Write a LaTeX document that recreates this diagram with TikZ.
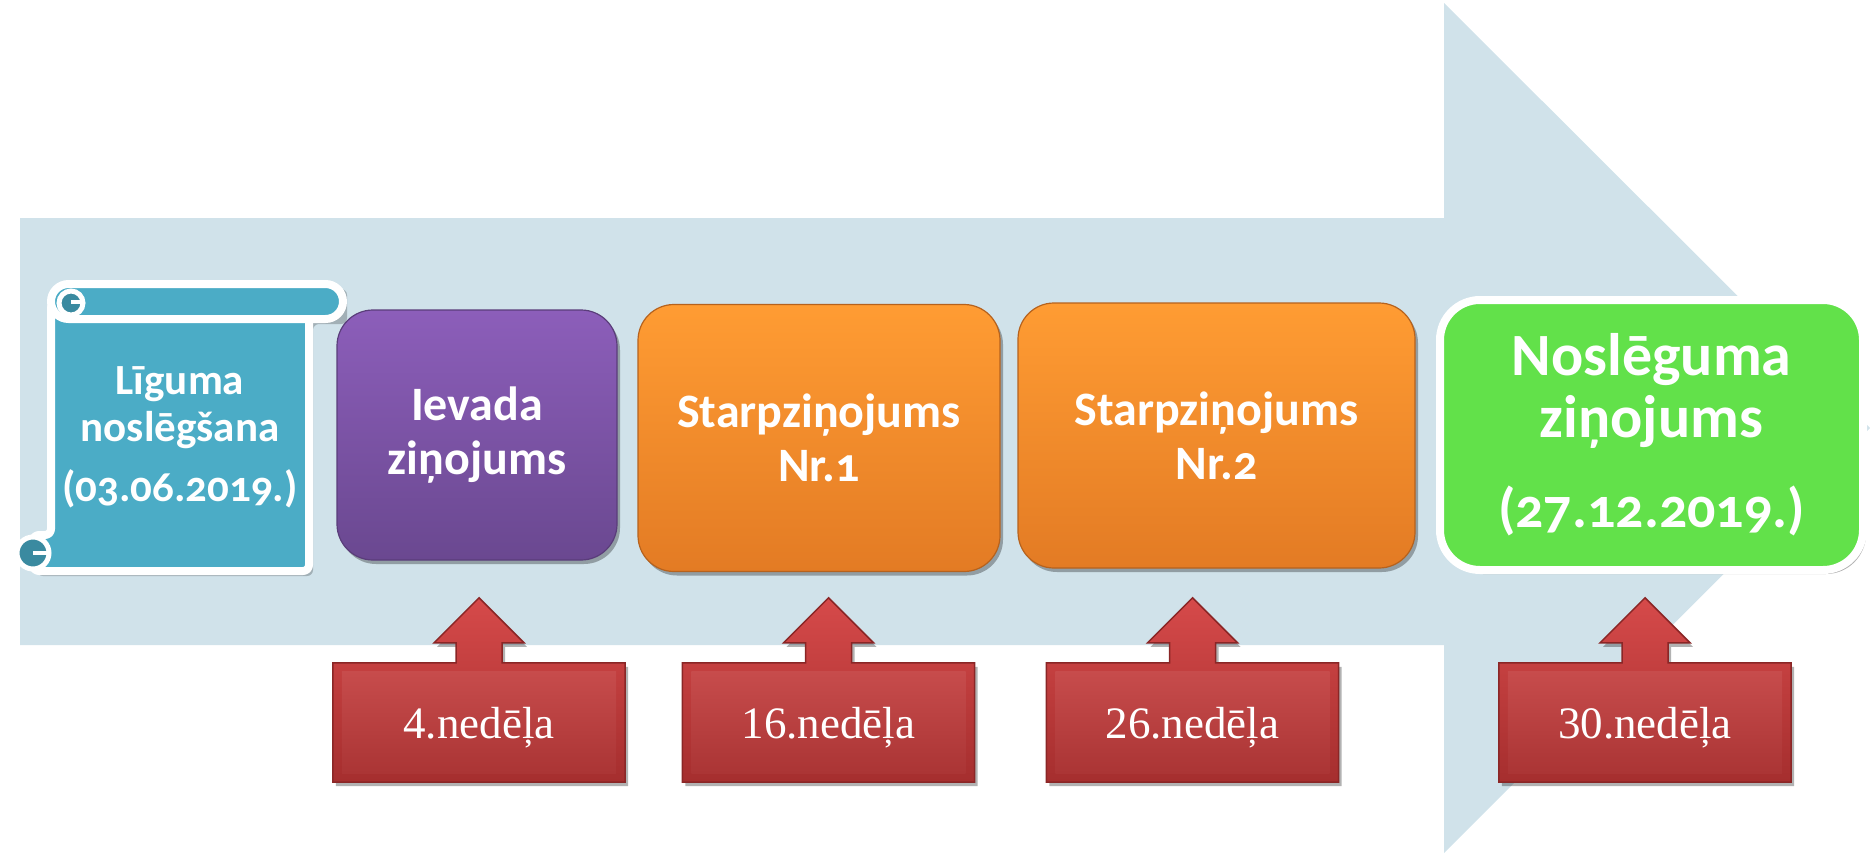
\documentclass[tikz,border=0pt]{standalone}
\usepackage{fontspec}
\setmainfont{Liberation Serif}
\setsansfont{Carlito}[Numbers=OldStyle]
\usetikzlibrary{calc,shadows}
\pgfdeclarelayer{back}
\pgfdeclarelayer{mid}
\pgfsetlayers{back,mid,main}
\definecolor{arrowbg}{HTML}{D0E2EA}
\definecolor{scrollteal}{HTML}{4BACC6}
\definecolor{scrolldark}{HTML}{3A8AA0}
\definecolor{purpletop}{HTML}{8C5EBA}
\definecolor{purplebot}{HTML}{6A4890}
\definecolor{orangetop}{HTML}{FF9C33}
\definecolor{orangebot}{HTML}{E37B24}
\definecolor{greenfill}{HTML}{62E14A}
\definecolor{redtop}{HTML}{D64A4A}
\definecolor{redbot}{HTML}{A52E2E}
\definecolor{redline}{HTML}{8A2626}
\definecolor{redface}{HTML}{C23C3C}
\tikzset{
  boxtext/.style={text=white, align=center, inner sep=0pt},
  softshadow/.style={drop shadow={shadow xshift=3pt, shadow yshift=-4pt, opacity=0.3, fill=black}},
  stagebox/.style={boxtext, rounded corners=36pt, line width=1.2pt, softshadow,
    font=\sffamily\bfseries\fontsize{48}{54}\selectfont},
  purplebox/.style={stagebox, top color=purpletop, bottom color=purplebot, draw=purplebot!85!black},
  orangebox/.style={stagebox, top color=orangetop, bottom color=orangebot, draw=orangebot!80!black},
  finalbox/.style={boxtext, rounded corners=40pt, fill=greenfill, draw=white, line width=8pt, softshadow,
    font=\sffamily\bfseries\fontsize{60}{62}\selectfont},
  scrolltext/.style={boxtext, font=\sffamily\bfseries\fontsize{43}{47}\selectfont},
  weekbox/.style={text=white, font=\fontsize{45}{50}\selectfont, minimum width=292pt,
    minimum height=119pt, inner sep=0pt, text depth=0pt},
  weekshape/.style={top color=redtop, bottom color=redbot, draw=redline, line width=1.5pt,
    line join=miter, softshadow},
  weekface/.style={top color=redface!92!white, bottom color=redface!88!black},
  scrollpart/.style={fill=scrollteal, draw=white, line width=8pt, line join=round},
  scrollcurl/.style={fill=scrolldark, draw=white, line width=5pt}
}
\newcommand\weekarrow[1]{%
  \draw[weekshape] (#1.south west) -- (#1.north west) -- ($(#1.north)+(-23,0)$) -- ++(0,-20)
    -- ++(-22,0) -- ++(45,-45) -- ++(45,45) -- ++(-22,0) -- ++(0,20)
    -- (#1.north east) -- (#1.south east) -- cycle;
  \fill[weekface] ($(#1.south west)+(9,-9)$) rectangle ($(#1.north east)+(-9,9)$);
}
\begin{document}
\begin{tikzpicture}[x=1pt, y=-1pt]
\useasboundingbox (0,0) rectangle (1870,854);

% big background arrow
\begin{pgfonlayer}{back}
  \fill[arrowbg] (20,218) -- (1444,218) -- (1444,3) -- (1870,428) -- (1444,853)
    -- (1444,645) -- (20,645) -- cycle;
\end{pgfonlayer}

% scroll (contract signing)
\node[scrolltext] (liguma) at (180,437) {Līguma\\noslēgšana\\[13pt](03.06.2019.)};
\begin{pgfonlayer}{mid}
  \begin{scope}[shift={(4,5)}]
    \fill[black, opacity=0.22, rounded corners=6pt] (51,284) -- (343,284) -- (343,319)
      -- (309,319) -- (309,571) -- (33,571) -- (33,535) -- (51,535) -- cycle;
  \end{scope}
  \filldraw[scrollpart, rounded corners=6pt] (51,302) -- (309,302) -- (309,571) -- (33,571)
    -- (33,535) -- (51,535) -- cycle;
  \filldraw[scrollcurl] (33,553) circle[radius=16pt];
  \draw[white, line width=4pt] (33,553) -- (48,553);
  \filldraw[scrollpart, rounded corners=17.5pt] (51,284) rectangle (343,319);
  \filldraw[scrollcurl] (71,303) circle[radius=12pt];
  \draw[white, line width=4pt] (71,302) -- (83,302);
\end{pgfonlayer}

% stage boxes
\node[purplebox, minimum width=280pt, minimum height=250pt] (ievada) at (477,435)
  {Ievada\\ziņojums};
\node[orangebox, minimum width=362pt, minimum height=267pt] (starp1) at (819,438)
  {Starpziņojums\\Nr.1};
\node[orangebox, minimum width=397pt, minimum height=265pt] (starp2) at (1216.5,435.5)
  {Starpziņojums\\Nr.2};
\node[finalbox, minimum width=423pt, minimum height=270pt] (nosl) at (1651.5,435)
  {Noslēguma\\ziņojums\\[28pt]{\fontsize{56}{62}\selectfont(27.12.2019.)}};

% week callouts
\node[weekbox] (w1) at (479,722.5) {4.nedēļa};
\node[weekbox] (w2) at (828.5,722.5) {16.nedēļa};
\node[weekbox] (w3) at (1192.5,722.5) {26.nedēļa};
\node[weekbox] (w4) at (1645,722.5) {30.nedēļa};
\begin{pgfonlayer}{mid}
  \weekarrow{w1}
  \weekarrow{w2}
  \weekarrow{w3}
  \weekarrow{w4}
\end{pgfonlayer}
\end{tikzpicture}
\end{document}
